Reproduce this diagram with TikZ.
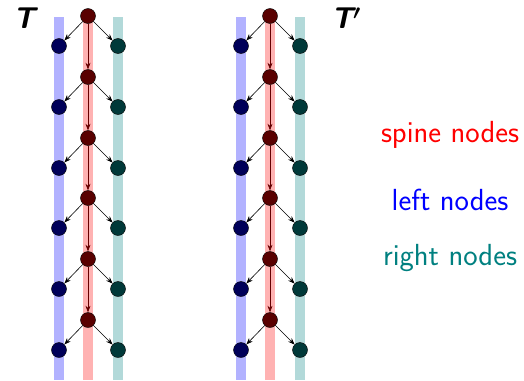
\documentclass[tikz,border=0pt]{standalone}
\usetikzlibrary{arrows.meta}
\begin{document}
\begin{tikzpicture}[x=1pt,y=-1pt,
  spn/.style={circle,draw=black,line width=0.4pt,fill=red!35!black,minimum size=15pt,inner sep=0pt},
  lfn/.style={circle,draw=black,line width=0.4pt,fill=blue!35!black,minimum size=15pt,inner sep=0pt},
  rtn/.style={circle,draw=black,line width=0.4pt,fill=teal!45!black,minimum size=15pt,inner sep=0pt},
  edge/.style={-{Stealth[length=6.5pt,width=5pt]},line width=0.6pt,black},
  sedge/.style={-{Stealth[length=6.5pt,width=5pt]},line width=0.6pt,red!40!black},
  lbl/.style={font=\fontsize{30.5}{31}\selectfont\sffamily},
  ttl/.style={font=\fontsize{30}{30}\selectfont\sffamily\bfseries\itshape}]
\useasboundingbox (0,0) rectangle (524,380);
\foreach \cx/\tr in {88/A,270/B}{
  \fill[blue!30] (\cx-34,17) rectangle (\cx-24,380);
  \fill[red!30] (\cx-5,16) rectangle (\cx+5,380);
  \fill[teal!30] (\cx+25,17) rectangle (\cx+35,380);
  \foreach \i/\y in {1/16,2/77,3/138,4/198,5/259,6/320}{
    \node[spn] (\tr s\i) at (\cx,\y) {};
    \node[lfn] (\tr l\i) at (\cx-29,\y+30) {};
    \node[rtn] (\tr r\i) at (\cx+30,\y+30) {};
    \draw[edge] (\tr s\i) -- (\tr l\i);
    \draw[edge] (\tr s\i) -- (\tr r\i);
  }
  \foreach \i/\j in {1/2,2/3,3/4,4/5,5/6}{
    \draw[sedge] (\tr s\i) -- (\tr s\j);
  }
}
\node[ttl] (tA) at (24,18) {T};
\node[ttl] (tB) at (346,18) {T{\boldmath$'$}};
\node[lbl,text=red] (ls) at (450,135) {spine nodes};
\node[lbl,text=blue] (ll) at (450,200) {left nodes};
\node[lbl,text=teal] (lr) at (450,258) {right nodes};
\end{tikzpicture}
\end{document}
